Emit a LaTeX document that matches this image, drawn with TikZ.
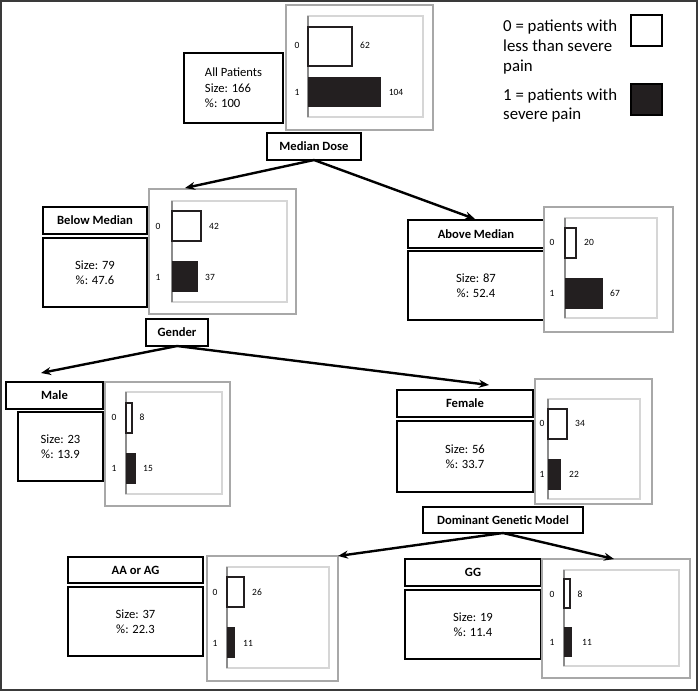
\documentclass[tikz,border=0pt]{standalone}
\usepackage{fontspec}
\setmainfont{Carlito}
\usetikzlibrary{arrows.meta}
\definecolor{barblack}{HTML}{231F20}
\definecolor{chartgrey}{HTML}{A8A8A8}
\definecolor{plotgrey}{HTML}{D6D6D6}
\definecolor{axisgrey}{HTML}{8C8C8C}
\definecolor{framegrey}{HTML}{3A3A3A}
\newcommand\rect[7]{\node[#1, minimum width={(#5-#3)*1pt}, minimum height={(#6-#4)*1pt}] (#2) at ({(#3+#5)/2},{(#4+#6)/2}) {#7};}
\newcommand\chart[9]{%
  \rect{chartbox}{#1}{#2}{#3}{#4}{#5}{}
  \draw[plotarea] (#6,#7) rectangle (#8,#9);
  \draw[axisline] (#6,#7) -- (#6,#9);}
\newcommand\bars[7]{%
  \draw[barzero] (#7,#1) rectangle (#3,#2);
  \fill[barone] (#7,#4) rectangle (#6,#5);}
\begin{document}
\begin{tikzpicture}[x=1pt,y=-1pt,
  box/.style={draw=black, line width=1.3pt, inner sep=0pt, outer sep=0pt},
  lab/.style={box, font=\bfseries\fontsize{12.6}{14}\selectfont},
  stat/.style={box, font=\fontsize{12.6}{15.5}\selectfont, align=center},
  chartbox/.style={draw=chartgrey, line width=1.8pt, inner sep=0pt, outer sep=0pt},
  plotarea/.style={draw=plotgrey, line width=1.2pt},
  axisline/.style={draw=axisgrey, line width=1.2pt},
  barzero/.style={draw=barblack, fill=white, line width=1.3pt},
  barone/.style={fill=barblack},
  num/.style={font=\fontsize{9.5}{11}\selectfont, inner sep=0pt},
  leg/.style={font=\fontsize{16.8}{19.5}\selectfont, inner sep=0pt, anchor=base west},
  arr/.style={-{Stealth[length=10pt,width=8pt]}, line width=2.4pt, draw=black},
  frame/.style={draw=framegrey, line width=2pt}]
\useasboundingbox (0,0) rectangle (699,693);
\draw[frame] (1,1) rectangle (697,690);

% legend
\node[leg] (l0a) at (503,32) {0 = patients with};
\node[leg] (l0b) at (503,52) {less than severe};
\node[leg] (l0c) at (503,71) {pain};
\node[leg] (l1a) at (503,100) {1 = patients with};
\node[leg] (l1b) at (503,119) {severe pain};
\rect{box}{sq0}{631}{15}{662}{46}{}
\rect{box, fill=barblack}{sq1}{631}{84}{662}{115}{}

% all patients
\rect{stat, align=left}{allp}{184}{53}{283}{123}{All Patients\\Size: 166\\\%: 100}
\chart{chA}{286}{5}{433}{130}{308}{16}{423}{117}
\bars{27}{66}{352}{77}{107}{381}{308}
\node[num] (a0) at (297,45) {0};
\node[num] (a62) at (365,45) {62};
\node[num] (a1) at (297,92) {1};
\node[num] (a104) at (396,92) {104};
\rect{lab}{md}{267}{133}{361}{160}{Median Dose}

% below median
\rect{lab}{bmlab}{43}{207}{147}{234}{Below Median}
\rect{stat}{bmstat}{43}{238}{147}{307}{Size: 79\\\%: 47.6}
\chart{chBM}{149}{189}{296}{314}{172}{201}{287}{302}
\bars{211}{241}{201}{261}{292}{198}{172}
\node[num] (bm0) at (158,226) {0};
\node[num] (bm42) at (214,226) {42};
\node[num] (bm1) at (158,277) {1};
\node[num] (bm37) at (210,277) {37};

% above median
\rect{lab}{amlab}{408}{220}{544}{248}{Above Median}
\rect{stat}{amstat}{408}{251}{544}{320}{Size: 87\\\%: 52.4}
\chart{chAM}{544}{207}{673}{332}{565}{218}{657}{318}
\bars{228}{258}{576}{278}{309}{603}{565}
\node[num] (am0) at (552,242) {0};
\node[num] (am20) at (589,242) {20};
\node[num] (am1) at (552,293) {1};
\node[num] (am67) at (615,293) {67};

% gender
\rect{lab}{gender}{146}{319}{208}{346}{Gender}

% male
\rect{lab}{mlab}{6}{382}{103}{409}{Male}
\rect{stat}{mstat}{18}{412}{103}{481}{Size: 23\\\%: 13.9}
\chart{chM}{105}{382}{230}{506}{126}{392}{222}{494}
\bars{403}{433}{132}{453}{484}{136}{126}
\node[num] (m0) at (114,417) {0};
\node[num] (m8) at (142,417) {8};
\node[num] (m1) at (114,468) {1};
\node[num] (m15) at (148,468) {15};

% female
\rect{lab}{flab}{397}{390}{533}{417}{Female}
\rect{stat}{fstat}{397}{421}{533}{492}{Size: 56\\\%: 33.7}
\chart{chF}{535}{379}{652}{504}{548}{399}{640}{499}
\bars{409}{439}{567}{459}{490}{561}{548}
\node[num] (f0) at (542,423) {0};
\node[num] (f34) at (580,423) {34};
\node[num] (f1) at (542,474) {1};
\node[num] (f22) at (574,474) {22};

% dominant genetic model
\rect{lab}{dgm}{423}{507}{583}{533}{Dominant Genetic Model}

% AA or AG
\rect{lab}{aalab}{68}{557}{203}{583}{AA or AG}
\rect{stat}{aastat}{68}{587}{203}{656}{Size: 37\\\%: 22.3}
\chart{chAA}{207}{556}{338}{681}{227}{567}{329}{668}
\bars{577}{607}{244}{627}{658}{235}{227}
\node[num] (aa0) at (215,592) {0};
\node[num] (aa26) at (257,592) {26};
\node[num] (aa1) at (215,643) {1};
\node[num] (aa11) at (248,643) {11};

% GG
\rect{lab}{gglab}{405}{559}{541}{586}{GG}
\rect{stat}{ggstat}{405}{590}{541}{659}{Size: 19\\\%: 11.4}
\chart{chGG}{542}{559}{690}{678}{564}{570}{679}{666}
\bars{579}{608}{570}{627}{657}{572}{564}
\node[num] (gg0) at (552,594) {0};
\node[num] (gg8) at (580,594) {8};
\node[num] (gg1) at (552,642) {1};
\node[num] (gg11) at (587,642) {11};

% arrow tips
\coordinate (tBM) at (185,188);
\coordinate (tAM) at (475,219);
\coordinate (tM) at (41,373);
\coordinate (tF) at (489,385);
\coordinate (tAA) at (338,556);
\coordinate (tGG) at (614,559);

\draw[arr] (md.south) -- (tBM);
\draw[arr] (md.south) -- (tAM);
\draw[arr] (gender.south) -- (tM);
\draw[arr] (gender.south) -- (tF);
\draw[arr] (dgm.south) -- (tAA);
\draw[arr] (dgm.south) -- (tGG);
\end{tikzpicture}
\end{document}
